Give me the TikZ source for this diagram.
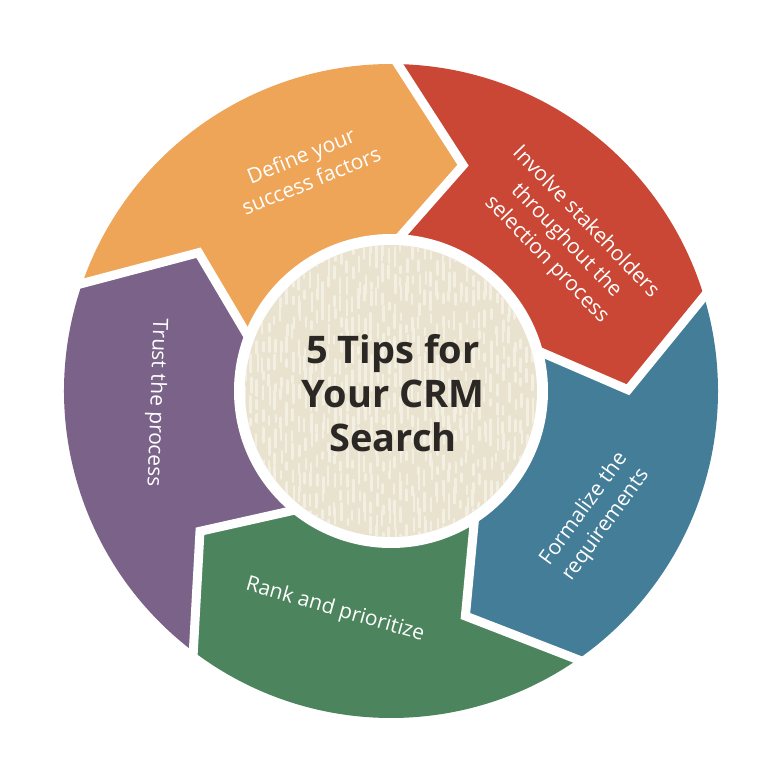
\documentclass[tikz,border=0pt]{standalone}
\usepackage{fontspec}
\setmainfont{Open Sans}
\usetikzlibrary{calc}

\definecolor{efaaqq}{RGB}{239, 165, 87}
\definecolor{cceett}{RGB}{201, 71, 52}
\definecolor{ee77aa}{RGB}{68, 125, 152}
\definecolor{ee88ee}{RGB}{76, 132, 93}
\definecolor{776688}{RGB}{122, 98, 136}
\definecolor{eeeecc}{RGB}{232, 226, 206}
\definecolor{ffeeee}{RGB}{243, 239, 227}
\definecolor{tttttt}{RGB}{43, 39, 37}

\begin{document}
\begin{tikzpicture}[etiqueta/.style={text=white, align=center, font=\fontsize{21}{27}\selectfont}]
        \useasboundingbox (-391pt, -389pt) rectangle (389pt, 391pt);

        \foreach \col [count=\i from 0] in {efaaqq, cceett, ee77aa, ee88ee, 776688}{
        \pgfmathsetmacro{\a}{160.8 - 72*\i}
        \pgfmathsetmacro{\b}{\a - 72}
        \fill[color=\col] (\a:327pt) arc[start angle=\a, end angle=\b, radius=327pt]
            -- ({\b-16.5}:237pt) -- ({\b-2.3}:150pt)
            arc[start angle=\b-2.3, end angle=\a-2.3, radius=150pt]
            -- ({\a-16.5}:237pt) -- cycle;
        }

        % separaciones
        \foreach \b in {160.8, 88.8, 16.8, -55.2, -127.2}
        \draw[color=white, line width=9pt, line join=miter]
            ($({\b-16.5}:237pt)!1.15!(\b:327pt)$) -- ({\b-16.5}:237pt) -- ($({\b-16.5}:237pt)!1.2!({\b-2.3}:155pt)$);

        \fill[color=white] (0, 0) circle (157pt);

        % textura del circulo
        \begin{scope}[x=1pt, y=1pt]
        \clip (0, 0) circle (146pt);
        \fill[color=eeeecc] (-150, -150) rectangle (150, 150);
        \pgfmathsetseed{12}
        \foreach \x in {-147, -141, ..., 147}
        \foreach \y in {-165, -145, ..., 150}{
        \pgfmathsetmacro{\dy}{rnd*18}
        \pgfmathsetmacro{\dx}{rnd*2}
        \pgfmathsetmacro{\l}{6 + rnd*13}
        \draw[color=ffeeee, line width=2.6pt, line cap=round] (\x+\dx, \y+\dy) -- ++(0, \l);
        }
        \end{scope}

        \node[text=tttttt, align=center, font=\bfseries\fontsize{38}{44}\selectfont] (titulo) at (2pt, -2pt) {5 Tips for\\Your CRM\\Search};

        \node[etiqueta, rotate=22] (definir) at (-85pt, 223pt) {Define your\\success factors};
        \node[etiqueta, rotate=-46] (involucrar) at (175pt, 150pt) {Involve stakeholders\\throughout the\\selection process};
        \node[etiqueta, rotate=54] (formalizar) at (204pt, -126pt) {Formalize the\\requirements};
        \node[etiqueta, rotate=-16] (priorizar) at (-56pt, -219pt) {Rank and prioritize};
        \node[etiqueta, rotate=-92] (confiar) at (-235pt, -12pt) {Trust the process};
    \end{tikzpicture}
\end{document}
